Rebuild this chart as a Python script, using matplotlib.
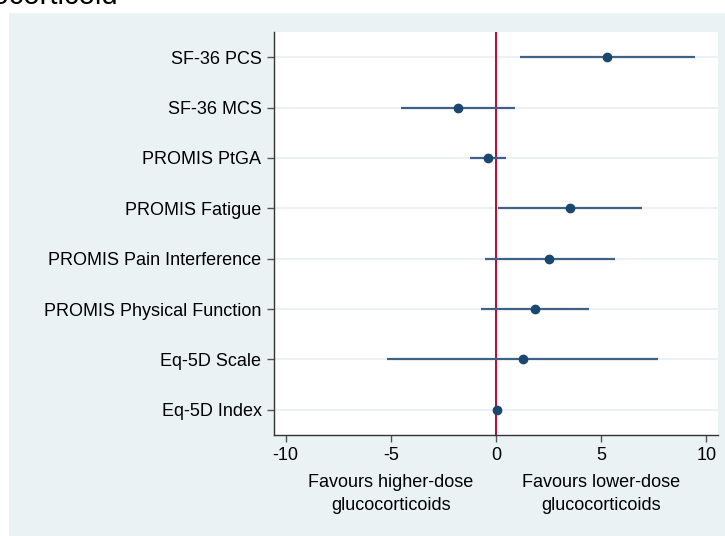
import matplotlib.pyplot as plt
from matplotlib.patches import Rectangle
from matplotlib.transforms import blended_transform_factory

plt.rcParams['font.family'] = ['Liberation Sans', 'DejaVu Sans']

# outcomes, top to bottom
outcomes = ['SF-36 PCS', 'SF-36 MCS', 'PROMIS PtGA', 'PROMIS Fatigue',
            'PROMIS Pain Interference', 'PROMIS Physical Function',
            'Eq-5D Scale', 'Eq-5D Index']
estimate = [5.29, -1.82, -0.38, 3.51, 2.54, 1.86, 1.26, 0.05]
ci_low = [1.14, -4.50, -1.23, 0.09, -0.51, -0.71, -5.17, 0.01]
ci_high = [9.46, 0.90, 0.46, 6.93, 5.66, 4.44, 7.71, 0.08]
xticks = [-10, -5, 0, 5, 10]
side_labels = [(-5, 'Favours higher-dose', 'glucocorticoids'),
               (5, 'Favours lower-dose', 'glucocorticoids')]

bg = '#eaf2f3'
navy = '#1a476f'
W, H = 725, 536

fig = plt.figure(figsize=(7.25, 5.36), dpi=100)
fig.patch.set_facecolor('white')
fig.patches.append(Rectangle((9 / W, 0), 1 - 9 / W, 1 - 13 / H,
                             transform=fig.transFigure, facecolor=bg,
                             edgecolor='none', zorder=-10))
# title of the source figure, cut off at the top
fig.text(118 / W, 1 - 4 / H, 'glucocorticoid', fontsize=21, va='baseline',
         ha='right', color='black')

ax = fig.add_axes([274 / W, 101 / H, 444 / W, 403 / H])
ax.set_facecolor('white')

ypos = list(range(len(outcomes), 0, -1))
for y in ypos:
    ax.axhline(y, color=bg, lw=1.5, zorder=0)
ax.axvline(0, color='#c10534', lw=1.4, zorder=1)
ax.hlines(ypos, ci_low, ci_high, color='#3f6284', lw=1.6, zorder=2)
ax.plot(estimate, ypos, 'o', color=navy, ms=6, zorder=3)

ax.set_xlim(-10.55, 10.55)
ax.set_ylim(0.5, 8.5)
ax.set_yticks(ypos)
ax.set_yticklabels(outcomes, fontsize=13)
ax.set_xticks(xticks)
ax.set_xticklabels([str(t) for t in xticks], fontsize=13)
ax.tick_params(axis='both', length=5, width=1, color='#555555', pad=4)

for side in ['top', 'right']:
    ax.spines[side].set_visible(False)
for side in ['left', 'bottom']:
    ax.spines[side].set_color('#333333')
    ax.spines[side].set_linewidth(1)

trans = blended_transform_factory(ax.transData, fig.transFigure)
for xc, line1, line2 in side_labels:
    ax.text(xc, 1 - 487 / H, line1, transform=trans, ha='center',
            va='baseline', fontsize=13)
    ax.text(xc, 1 - 510 / H, line2, transform=trans, ha='center',
            va='baseline', fontsize=13)

fig.savefig('out.png', dpi=100)
